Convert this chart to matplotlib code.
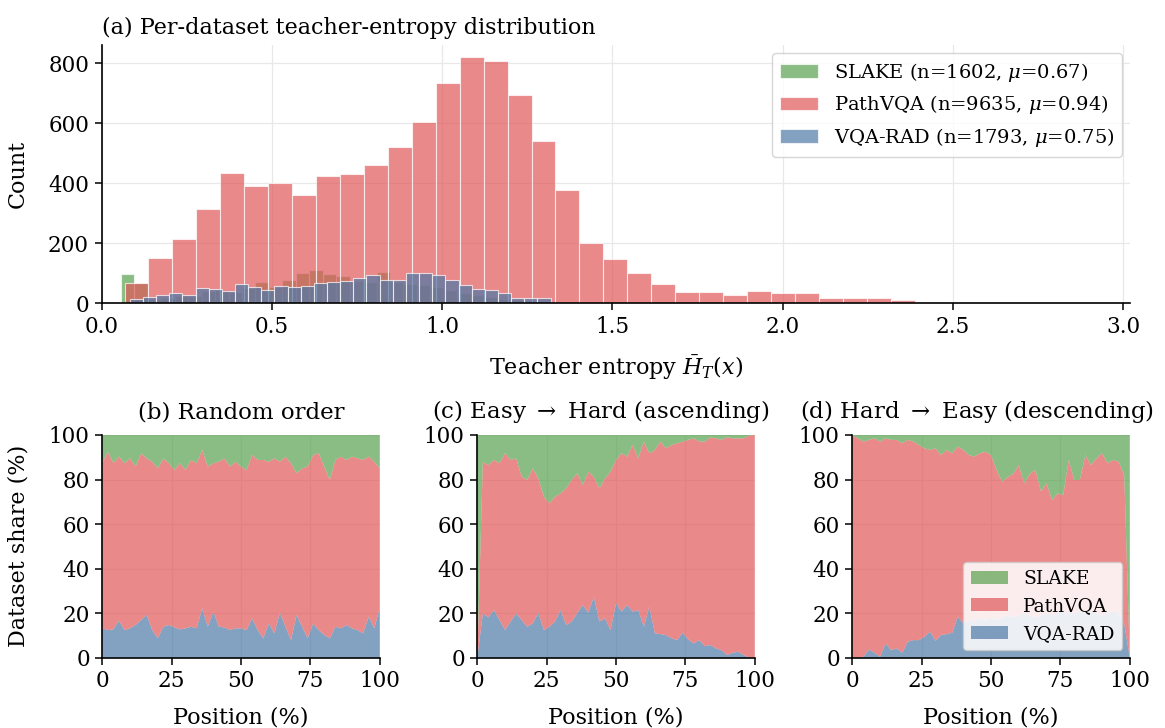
import numpy as np
import matplotlib
matplotlib.use("Agg")
import matplotlib.pyplot as plt

plt.rcParams['font.family'] = ['DejaVu Serif']
plt.rcParams['mathtext.fontset'] = 'dejavuserif'

# ---------------- data ----------------
datasets = ["SLAKE", "PathVQA", "VQA-RAD"]
n_samples = [1602, 9635, 1793]
means = [0.67, 0.94, 0.75]
colors = ["#59a14f", "#e15759", "#4e79a7"]

# histogram bins (start, width) and counts per dataset
slake_bin_start, slake_bin_width = 0.057, 0.0395
slake_counts = [97, 68, 15, 18, 22, 25, 40, 42, 38, 50, 69, 55, 77, 99, 111, 97,
                91, 75, 70, 105, 70, 65, 60, 55, 45, 35, 28, 20, 14, 10, 6, 4]
path_bin_start, path_bin_width = 0.0676, 0.0703
path_counts = [67, 151, 213, 314, 435, 392, 399, 361, 425, 432, 459, 521, 605, 735,
               820, 806, 694, 541, 376, 199, 148, 100, 63, 38, 38, 26, 40, 34, 34,
               17, 17, 17, 10, 3]
vqa_bin_start, vqa_bin_width = 0.0833, 0.0386
vqa_counts = [15, 19, 26, 32, 27, 49, 48, 40, 62, 53, 43, 58, 55, 56, 66, 71, 73,
              83, 93, 76, 76, 99, 101, 93, 78, 61, 47, 43, 34, 18, 16, 16]

# curriculum composition (share %, sampled every 2 % of position)
position = np.linspace(0, 100, 51)
# (b) random order: VQA-RAD share and VQA-RAD+PathVQA cumulative share
b_vqarad = [13.2, 12.4, 12.7, 16.6, 12.4, 13.2, 14.7, 16.9, 19.2, 12.4, 8.7, 13.9, 14.7,
            13.6, 12.7, 13.2, 13.9, 13.2, 22.2, 13.9, 20.7, 13.9, 13.6, 12.4, 13.2, 13.2,
            12.4, 17.7, 12.4, 8.7, 15.4, 10.9, 20.2, 13.9, 7.9, 19.2, 13.9, 8.7, 15.4,
            12.4, 10.2, 8.7, 13.9, 13.2, 14.7, 13.2, 12.4, 10.9, 18.4, 13.2, 22.2]
b_cum_path = [87.3, 92.5, 87.3, 90.3, 87.3, 89.5, 85.8, 91.8, 89.5, 88.0, 85.0, 89.5, 87.3,
              84.3, 87.3, 84.3, 88.8, 87.3, 93.3, 85.8, 87.3, 88.0, 89.5, 85.8, 88.0, 85.8,
              84.3, 91.0, 88.8, 88.8, 88.0, 89.5, 88.0, 90.3, 87.3, 82.8, 85.0, 85.8, 91.0,
              91.8, 85.8, 79.8, 88.8, 90.3, 88.8, 90.3, 89.5, 88.8, 90.3, 88.0, 85.0]
# (c) easy -> hard
c_vqarad = [0, 19.9, 18.1, 21.4, 16.9, 12.4, 16.2, 19.9, 16.9, 13.9, 15.4, 20.2, 12.4,
            13.9, 16.2, 21.4, 14.7, 16.2, 19.9, 23.7, 20.2, 27.4, 16.2, 17.7, 12.4, 24.4,
            20.7, 23.7, 20.7, 21.4, 13.9, 22.9, 10.9, 10.6, 10.2, 8.7, 7.9, 11.2, 8.2,
            6.4, 7.9, 5.2, 5.7, 4.2, 3.4, 1.2, 2.2, 2.7, 1.2, 0, 0]
c_cum_path = [0, 88.0, 86.5, 88.8, 87.3, 91.8, 88.8, 89.5, 81.3, 79.8, 85.0, 80.5, 72.3,
              69.3, 72.3, 73.8, 76.0, 79.8, 82.8, 77.5, 83.5, 81.3, 76.0, 80.5, 83.5, 88.8,
              91.8, 90.3, 95.5, 89.5, 97.0, 91.8, 93.3, 97.0, 94.0, 95.5, 96.3, 97.0, 97.8,
              98.5, 97.0, 97.0, 98.9, 98.5, 97.8, 99.0, 98.5, 98.5, 98.5, 99.7, 100]
# (d) hard -> easy
d_vqarad = [0, 0, 0.4, 3.7, 2.2, 0.4, 6.4, 3.4, 4.2, 2.2, 7.2, 7.9, 7.9, 9.4, 11.7, 7.6,
            10.2, 10.6, 11.2, 18.4, 15.4, 17, 16, 18, 17, 18, 17, 18, 19, 18, 19, 20, 19,
            18, 19, 20, 19, 20, 21, 20, 20, 21, 20, 21, 20, 19, 20, 21, 20, 15, 0]
d_cum_path = [100, 98.5, 97.0, 97.8, 98.5, 97.0, 98.5, 97.8, 97.8, 96.3, 97.8, 97.0, 95.5,
              94.0, 93.3, 94.0, 91.0, 93.3, 91.8, 94.8, 93.3, 91.0, 90.3, 91.8, 92.5, 91.0,
              84.3, 79.0, 81.1, 82.6, 86.5, 78.3, 82.6, 84.3, 74.6, 78.3, 70.8, 73.8, 73.0,
              88.8, 79.8, 79.8, 91.0, 86.5, 89.5, 91.8, 87.3, 88.8, 88.0, 82.0, 0]

panel_titles = ["(b) Random order", r"(c) Easy $\rightarrow$ Hard (ascending)",
                r"(d) Hard $\rightarrow$ Easy (descending)"]
title_centers = [0.5, 0.445, 0.45]

# ---------------- figure ----------------
W, H = 1165, 728
fig = plt.figure(figsize=(W / 100, H / 100), dpi=100)

def box(l, t, r, b):
    return [l / W, 1 - b / H, (r - l) / W, (b - t) / H]

TICK_FS = 15.5
LABEL_FS = 16
TITLE_FS = 16
grid_kw = dict(color="#e8e8e8", linewidth=0.9)

def style(ax):
    for s in ("top", "right"):
        ax.spines[s].set_visible(False)
    for s in ("left", "bottom"):
        ax.spines[s].set_linewidth(1.2)
    ax.tick_params(direction="out", length=5, width=1.1, labelsize=TICK_FS, pad=4)
    ax.grid(True, **grid_kw)
    ax.set_axisbelow(True)

# ---- (a) histogram ----
ax = fig.add_axes(box(101.5, 45, 1130, 303))
style(ax)
hist_specs = [(slake_bin_start, slake_bin_width, slake_counts),
              (path_bin_start, path_bin_width, path_counts),
              (vqa_bin_start, vqa_bin_width, vqa_counts)]
for (start, width, counts), name, n, mu, col in zip(hist_specs, datasets, n_samples, means, colors):
    counts = np.asarray(counts, float)
    edges = start + width * np.arange(len(counts) + 1)
    centers = 0.5 * (edges[:-1] + edges[1:])
    ax.hist(centers, bins=edges, weights=counts, color=col, alpha=0.7,
            edgecolor="white", linewidth=0.8,
            label=rf"{name} (n={n}, $\mu$={mu:.2f})")
ax.set_xlim(0, 3.02)
ax.set_ylim(0, 861)
ax.set_xticks([0.0, 0.5, 1.0, 1.5, 2.0, 2.5, 3.0])
ax.set_yticks([0, 200, 400, 600, 800])
ax.set_xlabel(r"Teacher entropy $\bar{H}_T(x)$", fontsize=LABEL_FS, labelpad=11)
ax.set_ylabel("Count", fontsize=LABEL_FS, labelpad=14)
ax.set_title("(a) Per-dataset teacher-entropy distribution", loc="left",
             fontsize=TITLE_FS, pad=8)
ax.legend(loc="upper right", fontsize=14, frameon=True, fancybox=True,
          framealpha=0.8, edgecolor="#cccccc", handlelength=2.0,
          borderaxespad=0.4)

# ---- (b)-(d) stack plots ----
panel_lefts = [102.3, 477.3, 852.3]
series = [(b_vqarad, b_cum_path), (c_vqarad, c_cum_path), (d_vqarad, d_cum_path)]
for i, (left, (vq, cum), title, tc) in enumerate(zip(panel_lefts, series, panel_titles,
                                                     title_centers)):
    ax = fig.add_axes(box(left, 435, left + 277.5, 657.7))
    style(ax)
    vq = np.asarray(vq, float)
    cum = np.asarray(cum, float)
    path = cum - vq
    slake = 100 - cum
    ax.stackplot(position, vq, path, slake, colors=[colors[2], colors[1], colors[0]],
                 alpha=0.7, labels=["VQA-RAD", "PathVQA", "SLAKE"], linewidth=0)
    ax.set_xlim(0, 100)
    ax.set_ylim(0, 100)
    ax.set_xticks([0, 25, 50, 75, 100])
    ax.set_yticks([0, 20, 40, 60, 80, 100])
    ax.set_xlabel("Position (%)", fontsize=LABEL_FS, labelpad=10)
    ax.set_title(title, fontsize=16.5, pad=12, x=tc)
    if i == 0:
        ax.set_ylabel("Dataset share (%)", fontsize=LABEL_FS, labelpad=14)
    if i == 2:
        h, l = ax.get_legend_handles_labels()
        ax.legend(h[::-1], l[::-1], loc="lower right", fontsize=13.5, frameon=True,
                  fancybox=True, framealpha=0.85, edgecolor="#cccccc",
                  handlelength=2.0, borderaxespad=0.4)

fig.savefig("out.png", dpi=100)
